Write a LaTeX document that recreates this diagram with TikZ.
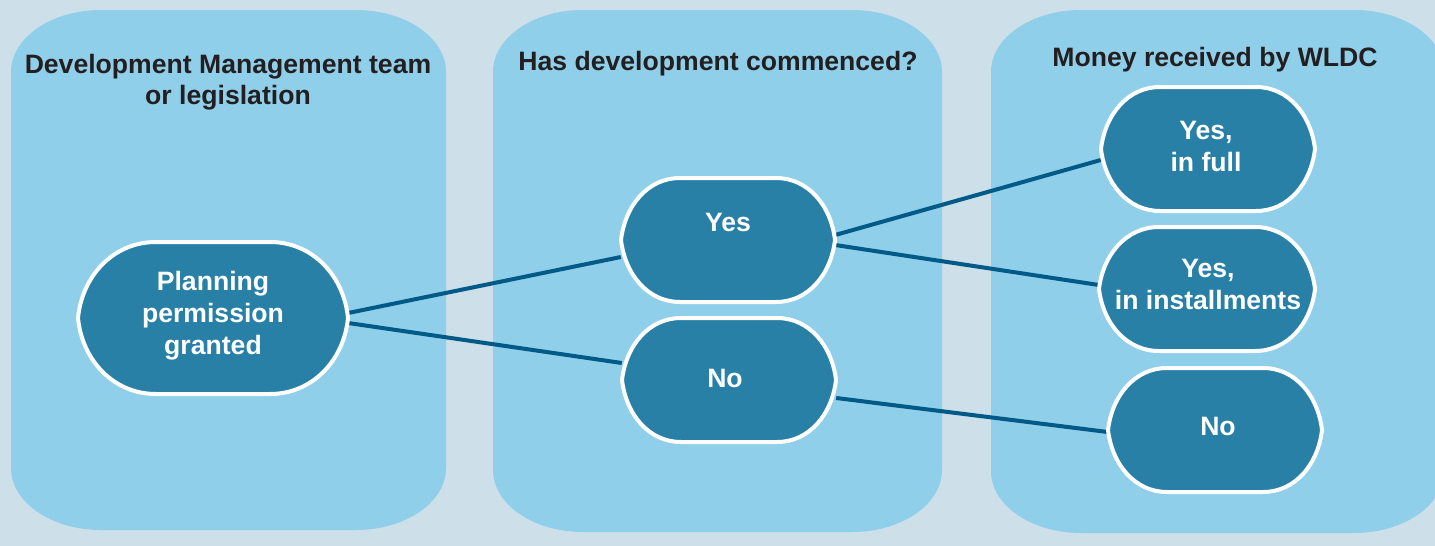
\documentclass[tikz,border=0pt]{standalone}
\usepackage{fontspec}
\setmainfont{Liberation Sans}
\usetikzlibrary{calc}
\pgfdeclarelayer{bg}
\pgfdeclarelayer{edges}
\pgfsetlayers{bg,edges,main}
\definecolor{bgc}{HTML}{CDDFE8}
\definecolor{panelc}{HTML}{8FCFEA}
\definecolor{nodec}{HTML}{2880A7}
\definecolor{linec}{HTML}{005A87}
\definecolor{titlec}{HTML}{231F20}
\tikzset{
  blobstyle/.style={fill=nodec, draw=white, line width=4pt},
  conn/.style={draw=linec, line width=4pt},
  ttl/.style={text=titlec, font=\bfseries\fontsize{26.6}{31}\selectfont, align=center, inner sep=0pt},
  lbl/.style={text=white, font=\bfseries\fontsize{26.6}{32}\selectfont, align=center, inner sep=0pt},
  panelfill/.style={fill=panelc}
}
% name, cx, cy, half width, half height, flat half width
\newcommand\blob[6]{%
 \draw[blobstyle] (#2-#4,#3) .. controls (#2-#4+4,#3-0.55*#5) and (#2-#6-0.55*#4+0.55*#6,#3-#5) .. (#2-#6,#3-#5) -- (#2+#6,#3-#5) .. controls (#2+#6+0.55*#4-0.55*#6,#3-#5) and (#2+#4-4,#3-0.55*#5) .. (#2+#4,#3) .. controls (#2+#4-4,#3+0.55*#5) and (#2+#6+0.55*#4-0.55*#6,#3+#5) .. (#2+#6,#3+#5) -- (#2-#6,#3+#5) .. controls (#2-#6-0.55*#4+0.55*#6,#3+#5) and (#2-#4+4,#3+0.55*#5) .. cycle;
 \node[inner sep=0pt, minimum width=2*#4, minimum height=2*#5] (#1) at (#2,#3) {};
}
% x0 y0 x1 y1
\newcommand\panelbox[4]{%
 \fill[panelfill] (#1,#2+62) .. controls (#1,#2+62-34.2) and (#1+90-49.7,#2) .. (#1+90,#2) -- (#3-90,#2) .. controls (#3-90+49.7,#2) and (#3,#2+62-34.2) .. (#3,#2+62) -- (#3,#4-62) .. controls (#3,#4-62+34.2) and (#3-90+49.7,#4) .. (#3-90,#4) -- (#1+90,#4) .. controls (#1+90-49.7,#4) and (#1,#4-62+34.2) .. (#1,#4-62) -- cycle;}
\begin{document}
\begin{tikzpicture}[x=1pt,y=-1pt]
\useasboundingbox (0,0) rectangle (1435,546);
\begin{pgfonlayer}{bg}
\fill[bgc] (0,0) rectangle (1435,546);
\begin{scope}
\clip (0,0) rectangle (1435,546);
\panelbox{11}{10}{446}{530}
\panelbox{493}{10}{942}{532}
\panelbox{991}{10}{1444}{533}
\end{scope}
\end{pgfonlayer}

\node[ttl] (t1) at (228,82) {Development Management team\\or legislation};
\node[ttl] (t2) at (718,64) {Has development commenced?};
\node[ttl] (t3) at (1215,60) {Money received by WLDC};

\blob{P}{213}{318}{135}{76}{57}
\blob{Y}{728}{240}{107}{62}{48}
\blob{N}{729}{380}{107}{62}{48}
\blob{YF}{1208}{149}{107}{62}{48}
\blob{YI}{1207}{289}{108}{62}{48}
\blob{NN}{1215}{430}{107}{62}{48}

\node[lbl] at (213,316) {Planning\\permission\\granted};
\node[lbl] at (728,222) {Yes};
\node[lbl] at (725,378) {No};
\node[lbl] at (1206,146) {Yes,\\in full};
\node[lbl] at (1208,284) {Yes,\\in installments};
\node[lbl] at (1218,426) {No};

\begin{pgfonlayer}{edges}
\draw[conn] ([yshift=5pt]P.east) -- ([yshift=-17pt]Y.west);
\draw[conn] ([yshift=-5pt]P.east) -- ([yshift=17pt]N.west);
\draw[conn] ([yshift=5pt]Y.east) -- ([yshift=-11pt]YF.west);
\draw[conn] ([yshift=-5pt]Y.east) -- ([yshift=4pt]YI.west);
\draw[conn] ([yshift=-18pt]N.east) -- ([yshift=-2pt]NN.west);
\end{pgfonlayer}
\end{tikzpicture}
\end{document}
